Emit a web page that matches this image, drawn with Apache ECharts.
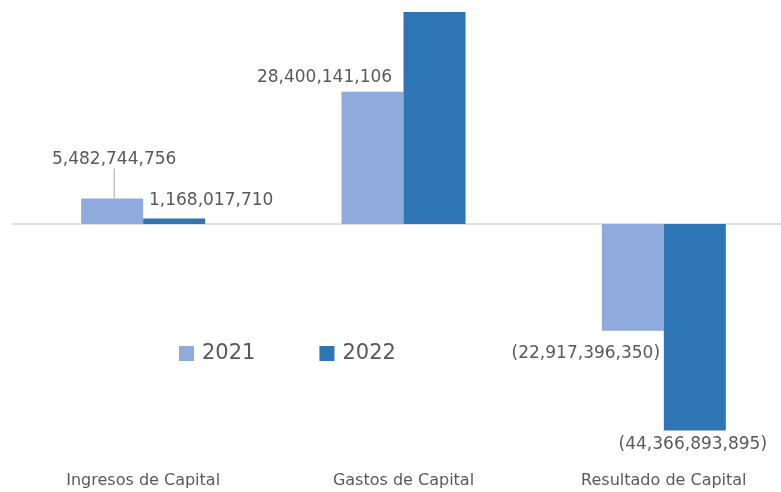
<!DOCTYPE html>
<html>
<head>
<meta charset="utf-8">
<script src="https://cdn.jsdelivr.net/npm/echarts@6/dist/echarts.min.js"></script>
<style>
  html, body { margin: 0; padding: 0; background: #fff; }
  #main { width: 781px; height: 492px; }
</style>
</head>
<body>
<div id="main"></div>
<script>
var categories = ['Ingresos de Capital', 'Gastos de Capital', 'Resultado de Capital'];
var seriesNames = ['2021', '2022'];
var values2021 = [5482744756, 28400141106, -22917396350];
var values2022 = [1168017710, 45534911605, -44366893895];

var textColor = '#595959';
var font = 'DejaVu Sans';

function fmt(v) {
    var s = Math.abs(v).toString().replace(/\B(?=(\d{3})+(?!\d))/g, ',');
    return v < 0 ? '(' + s + ')' : s;
}

// label placement per bar
var labels2021 = [
    { position: 'top', distance: 5 },
    { position: 'top', distance: 5 },
    { position: 'bottom', distance: 5 }
];
// shifts for the 2021 labels (done in labelLayout so the leader line follows)
var shift2021 = [[2, -25], [-48, -1], [-47, 9]];
var labels2022 = [
    { position: 'top', distance: 5, offset: [37, -4] },
    { show: false },
    { position: 'bottom', distance: 5, offset: [-2, 1] }
];

function buildData(values, labels, lineIdx) {
    return values.map(function (v, i) {
        return { value: v, label: labels[i], labelLine: { show: i === lineIdx } };
    });
}

var myChart = echarts.init(document.getElementById('main'));

var option = {
    backgroundColor: '#ffffff',
    animation: false,
    legend: {
        data: seriesNames,
        left: 174,
        top: 338,
        itemWidth: 15,
        itemHeight: 15,
        itemGap: 64,
        icon: 'rect',
        textStyle: { color: textColor, fontFamily: font, fontSize: 21, padding: [0, 0, 0, 3] }
    },
    grid: { left: 13, top: 12, width: 781, height: 448, outerBoundsMode: 'none', containLabel: false },
    xAxis: [{
        type: 'category',
        data: categories,
        axisLine: { onZero: true, lineStyle: { color: '#d9d9d9', width: 1.5 } },
        axisTick: { show: false },
        axisLabel: { show: false }
    }, {
        type: 'category',
        data: categories,
        position: 'bottom',
        axisLine: { show: false, onZero: false },
        axisTick: { show: false },
        axisLabel: { color: textColor, fontFamily: font, fontSize: 16, margin: 13 }
    }],
    yAxis: {
        type: 'value',
        min: -50690000000,
        max: 45534911605,
        show: false,
        splitLine: { show: false }
    },
    series: [{
        name: '2021',
        type: 'bar',
        barWidth: 62,
        barGap: 0,
        itemStyle: { color: '#8faadc' },
        label: {
            show: true,
            color: textColor,
            fontFamily: font,
            fontSize: 17,
            formatter: function (p) { return fmt(p.value); }
        },
        labelLine: { lineStyle: { color: '#a6a6a6', width: 1 } },
        labelLayout: function (p) {
            var s = shift2021[p.dataIndex];
            return { dx: s[0], dy: s[1] };
        },
        data: buildData(values2021, labels2021, 0)
    }, {
        name: '2022',
        type: 'bar',
        barWidth: 62,
        barGap: 0,
        itemStyle: { color: '#2e75b6' },
        label: {
            show: true,
            color: textColor,
            fontFamily: font,
            fontSize: 17,
            formatter: function (p) { return fmt(p.value); }
        },
        data: buildData(values2022, labels2022, -1)
    }]
};

myChart.setOption(option);
</script>
</body>
</html>
